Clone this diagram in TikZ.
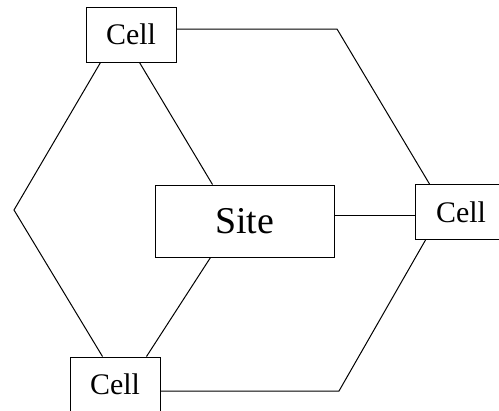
\documentclass[tikz,border=0pt]{standalone}
\usepackage{fontspec}
\setmainfont{Liberation Serif}
\usetikzlibrary{calc}
\begin{document}
\begin{tikzpicture}[x=1bp,y=-1bp,
  box/.style={draw, line width=1bp, inner sep=0pt, minimum width=90bp, minimum height=55bp, font=\fontsize{30}{32}\selectfont},
  sitebox/.style={draw, line width=1bp, inner sep=0pt, minimum width=179bp, minimum height=72bp, font=\fontsize{38}{40}\selectfont},
  link/.style={line width=1bp}]
\useasboundingbox (0,0) rectangle (499,410);
\clip (0,0) rectangle (499,410);
\node[box] (topcell) at (131,34.5) {Cell};
\node[sitebox] (site) at (244.5,221) {Site};
\node[box, minimum width=110bp, text width=90bp, align=center] (rightcell) at (470,212) {\hspace*{-18bp}Cell};
\node[box] (bottomcell) at (115,384.5) {Cell};
\coordinate (c1) at (337,29);
\coordinate (c2) at (14,210);
\coordinate (c3) at (339,391);
\coordinate (c4) at (375,215);
% outer hexagon
\draw[link] (topcell.east |- c1) -- (c1) -- ($(rightcell.north west)+(15,0)$);
\draw[link] ($(topcell.south west)+(15,0)$) -- (c2) -- ($(bottomcell.north west)+(33,0)$);
\draw[link] (bottomcell.east |- c3) -- (c3) -- ($(rightcell.south west)+(11,0)$);
% spokes
\draw[link] ($(topcell.south west)+(54,0)$) -- ($(site.north west)+(58,0)$);
\draw[link] ($(site.south west)+(56,0)$) -- ($(bottomcell.north west)+(77,0)$);
\draw[link] (site.east |- c4) -- (rightcell.west |- c4);
\end{tikzpicture}
\end{document}
